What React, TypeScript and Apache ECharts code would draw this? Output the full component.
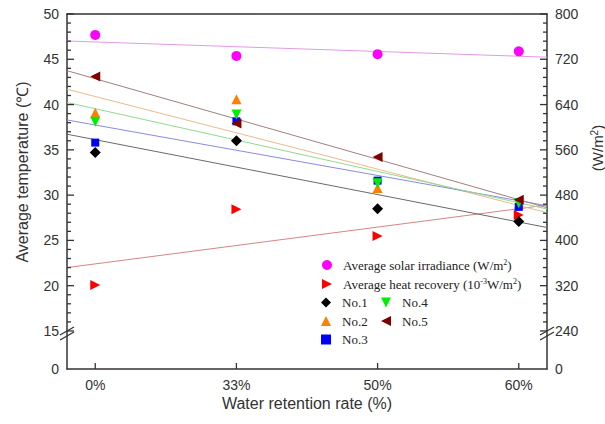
import React, { useEffect, useRef } from 'react';
import * as echarts from 'echarts';

// ---- data ----
const categories = ['0%', '33%', '50%', '60%'];
const xIndex = [0, 1, 2, 3];
// right axis (W/m2)
const solarIrradiance = [763, 726, 729, 734];
const heatRecovery = [321, 455, 408, 445];
// left axis (°C)
const no1 = [34.7, 36.0, 28.5, 27.1];
const no2 = [39.1, 40.6, 30.8, 29.0];
const no3 = [35.8, 38.15, 31.6, 28.7];
const no4 = [38.1, 38.9, 31.3, 29.1];
const no5 = [43.1, 37.9, 34.2, 29.5];
const leftMajorTicks = [15, 20, 25, 30, 35, 40, 45, 50];
const rightMajorTicks = [240, 320, 400, 480, 560, 640, 720, 800];

// ---- axis extents (layout) ----
const X_MIN = -0.2;
const X_MAX = 3.2;
const LEFT_MIN = 10.8;
const LEFT_MAX = 50;
const RIGHT_MIN = 172.8;
const RIGHT_MAX = 800;

const leftMinorTicks: number[] = [];
for (let v = 16; v < 50; v++) if (v % 5 !== 0) leftMinorTicks.push(v);
const rightMinorTicks: number[] = [];
for (let v = 256; v < 800; v += 16) if (v % 80 !== 0) rightMinorTicks.push(v);

function fitLine(values: number[]): number[][] {
  const n = values.length;
  const mx = xIndex.reduce((a, b) => a + b, 0) / n;
  const my = values.reduce((a, b) => a + b, 0) / n;
  let sxy = 0;
  let sxx = 0;
  for (let i = 0; i < n; i++) {
    sxy += (xIndex[i] - mx) * (values[i] - my);
    sxx += (xIndex[i] - mx) * (xIndex[i] - mx);
  }
  const k = sxy / sxx;
  const b = my - k * mx;
  return [X_MIN, X_MAX].map((x) => [x, k * x + b]);
}

const toPoints = (values: number[]) => values.map((v, i) => [xIndex[i], v]);

const SANS = '"Liberation Sans", Arial, Helvetica, sans-serif';
const SERIF = '"Liberation Serif", "Times New Roman", serif';
const AXIS_COLOR = '#333';
const LABEL_COLOR = '#333';

const SOLAR = 'Average solar irradiance (W/m2)';
const HEAT = 'Average heat recovery (10-3W/m2)';

const legendLabels: Record<string, string> = {
  [SOLAR]: '{g|}{t|Average solar irradiance (W/m}{s|2}{t|)}',
  [HEAT]: '{g|}{t|Average heat recovery (10}{s|-3}{t|W/m}{s|2}{t|)}',
  'No.1': '{g|}{t|No.1}',
  'No.2': '{g|}{t|No.2}',
  'No.3': '{g|}{t|No.3}',
  'No.4': '{g|}{t|No.4}',
  'No.5': '{g|}{t|No.5}',
};

const TRI_RIGHT = 'path://M0,0L10,5L0,10Z';
const TRI_LEFT = 'path://M10,0L10,10L0,5Z';
const TRI_DOWN = 'path://M0,0L10,0L5,10Z';
const TRI_UP = 'path://M5,0L10,10L0,10Z';

const seriesDefs = [
  { name: SOLAR, data: solarIrradiance, axis: 1, color: '#ff00ff', line: '#e29ae2', symbol: 'circle', size: 10 },
  { name: HEAT, data: heatRecovery, axis: 1, color: '#ff0000', line: '#d88484', symbol: TRI_RIGHT, size: 10 },
  { name: 'No.1', data: no1, axis: 0, color: '#000000', line: '#6a6a6a', symbol: 'diamond', size: 11 },
  { name: 'No.2', data: no2, axis: 0, color: '#ff8000', line: '#e9bb8c', symbol: TRI_UP, size: 10 },
  { name: 'No.3', data: no3, axis: 0, color: '#0000ff', line: '#8a8ae0', symbol: 'rect', size: 8 },
  { name: 'No.4', data: no4, axis: 0, color: '#00ee00', line: '#8fdc8f', symbol: TRI_DOWN, size: 10 },
  { name: 'No.5', data: no5, axis: 0, color: '#800000', line: '#a08080', symbol: TRI_LEFT, size: 10 },
];

function makeLegend(names: string[], left: number, top: number, gap: number) {
  return {
    data: names,
    left,
    top,
    orient: 'vertical',
    padding: 0,
    itemWidth: 10,
    itemHeight: 10,
    itemGap: gap,
    selectedMode: false,
    formatter: (name: string) => legendLabels[name] || name,
    textStyle: {
      fontFamily: SERIF,
      fontSize: 13,
      color: '#222',
      rich: {
        g: { width: 6 },
        t: { fontFamily: SERIF, fontSize: 13, color: '#222', lineHeight: 14 },
        s: { fontFamily: SERIF, fontSize: 8, color: '#222', verticalAlign: 'top', lineHeight: 8, padding: [0, 0, 6, 0] },
      },
    },
  };
}

function breakMark(cx: number, cy: number) {
  return {
    type: 'group',
    z: 100,
    children: [
      {
        type: 'polygon',
        shape: { points: [[cx - 7, cy + 2], [cx + 7, cy - 6], [cx + 7, cy - 1], [cx - 7, cy + 7]] },
        style: { fill: '#fff' },
      },
      { type: 'line', shape: { x1: cx - 7, y1: cy + 2, x2: cx + 7, y2: cy - 6 }, style: { stroke: AXIS_COLOR, lineWidth: 1.3 } },
      { type: 'line', shape: { x1: cx - 7, y1: cy + 7, x2: cx + 7, y2: cy - 1 }, style: { stroke: AXIS_COLOR, lineWidth: 1.3 } },
    ],
  };
}

// tick marks drawn through the axes' own scales (custom series)
function tickSeries(items: number[][], yAxisIndex: number, vertical: boolean) {
  return {
    type: 'custom',
    name: 'ticks',
    coordinateSystem: 'cartesian2d',
    xAxisIndex: 0,
    yAxisIndex,
    silent: true,
    clip: false,
    z: 6,
    data: items,
    renderItem: (params: any, api: any) => {
      const p = api.coord([api.value(0), api.value(1)]);
      const len = api.value(2);
      return {
        type: 'line',
        shape: vertical
          ? { x1: p[0], y1: p[1], x2: p[0], y2: p[1] - len }
          : { x1: p[0], y1: p[1], x2: p[0] + len, y2: p[1] },
        style: { stroke: AXIS_COLOR, lineWidth: 1.3 },
      };
    },
  };
}

export default function App() {
  const ref = useRef<HTMLDivElement>(null);

  useEffect(() => {
    if (!ref.current) return;
    const chart = echarts.init(ref.current, undefined, { renderer: 'svg' });

    const series: any[] = [];
    seriesDefs.forEach((d) => {
      series.push({
        name: 'fit ' + d.name,
        type: 'line',
        yAxisIndex: d.axis,
        data: fitLine(d.data),
        symbol: 'none',
        silent: true,
        z: 1,
        lineStyle: { color: d.line, width: 1 },
      });
    });
    seriesDefs.forEach((d) => {
      series.push({
        name: d.name,
        type: 'scatter',
        yAxisIndex: d.axis,
        data: toPoints(d.data),
        symbol: d.symbol,
        symbolSize: d.size,
        z: 3,
        itemStyle: { color: d.color, opacity: 1 },
      });
    });

    const leftTickItems = [
      ...leftMajorTicks.map((v) => [X_MIN, v, 7]),
      ...leftMinorTicks.map((v) => [X_MIN, v, 4]),
    ];
    const rightTickItems = [
      ...rightMajorTicks.map((v) => [X_MAX, v, -7]),
      ...rightMinorTicks.map((v) => [X_MAX, v, -4]),
    ];
    const xTickItems = xIndex.map((i) => [i, LEFT_MIN, 6]);
    series.push(tickSeries(leftTickItems, 0, false));
    series.push(tickSeries(rightTickItems, 1, false));
    series.push(tickSeries(xTickItems, 0, true));

    chart.setOption({
      animation: false,
      backgroundColor: '#fff',
      grid: {
        left: 67,
        right: 58,
        top: 14,
        bottom: 55,
      },
      xAxis: [
        {
          type: 'value',
          min: X_MIN,
          max: X_MAX,
          position: 'bottom',
          splitLine: { show: false },
          axisLine: { show: true, onZero: false, lineStyle: { color: AXIS_COLOR, width: 1.5 } },
          axisTick: { show: false },
          axisLabel: {
            customValues: xIndex,
            formatter: (v: number) => categories[Math.round(v)] ?? '',
            margin: 9,
            fontFamily: SANS,
            fontSize: 14,
            color: LABEL_COLOR,
          },
        },
        {
          type: 'value',
          min: X_MIN,
          max: X_MAX,
          position: 'top',
          splitLine: { show: false },
          axisLine: { show: true, onZero: false, lineStyle: { color: AXIS_COLOR, width: 1.5 } },
          axisTick: { show: false },
          axisLabel: { show: false },
        },
      ],
      yAxis: [
        {
          type: 'value',
          position: 'left',
          min: LEFT_MIN,
          max: LEFT_MAX,
          splitLine: { show: false },
          axisLine: { show: true, onZero: false, lineStyle: { color: AXIS_COLOR, width: 1.5 } },
          axisTick: { show: false },
          axisLabel: {
            customValues: [LEFT_MIN, ...leftMajorTicks],
            formatter: (v: number) => (v < 12 ? '0' : String(v)),
            margin: 8,
            fontFamily: SANS,
            fontSize: 14,
            color: LABEL_COLOR,
          },
        },
        {
          type: 'value',
          position: 'right',
          min: RIGHT_MIN,
          max: RIGHT_MAX,
          splitLine: { show: false },
          axisLine: { show: true, onZero: false, lineStyle: { color: AXIS_COLOR, width: 1.5 } },
          axisTick: { show: false },
          axisLabel: {
            customValues: [RIGHT_MIN, ...rightMajorTicks],
            formatter: (v: number) => (v < 200 ? '0' : String(v)),
            margin: 8,
            fontFamily: SANS,
            fontSize: 14,
            color: LABEL_COLOR,
          },
        },
      ],
      legend: [
        makeLegend([SOLAR, HEAT], 322, 258, 5),
        makeLegend(['No.1', 'No.2', 'No.3'], 321, 296, 5.5),
        makeLegend(['No.4', 'No.5'], 381, 296, 5.5),
      ],
      graphic: [
        {
          type: 'text',
          x: 22,
          y: 172,
          rotation: Math.PI / 2,
          style: {
            text: 'Average temperature (℃)',
            fontFamily: SANS,
            fontSize: 16,
            fill: '#333',
            align: 'center',
            verticalAlign: 'middle',
          },
        },
        {
          type: 'text',
          x: 597,
          y: 148,
          rotation: Math.PI / 2,
          style: {
            text: '{t|(W/m}{s|2}{t|)}',
            align: 'center',
            verticalAlign: 'middle',
            rich: {
              t: { fontFamily: SANS, fontSize: 15, fill: '#333', lineHeight: 16 },
              s: { fontFamily: SANS, fontSize: 10, fill: '#333', verticalAlign: 'top', lineHeight: 10 },
            },
          },
        },
        {
          type: 'text',
          x: 307,
          y: 403,
          style: {
            text: 'Water retention rate (%)',
            fontFamily: SANS,
            fontSize: 16,
            fill: '#333',
            align: 'center',
            verticalAlign: 'middle',
          },
        },
        breakMark(67, 333),
        breakMark(547, 333),
      ],
      series,
    });

    return () => chart.dispose();
  }, []);

  return (
    <div
      ref={ref}
      style={{ position: 'fixed', left: 0, top: 0, width: 605, height: 424, background: '#fff' }}
    />
  );
}
